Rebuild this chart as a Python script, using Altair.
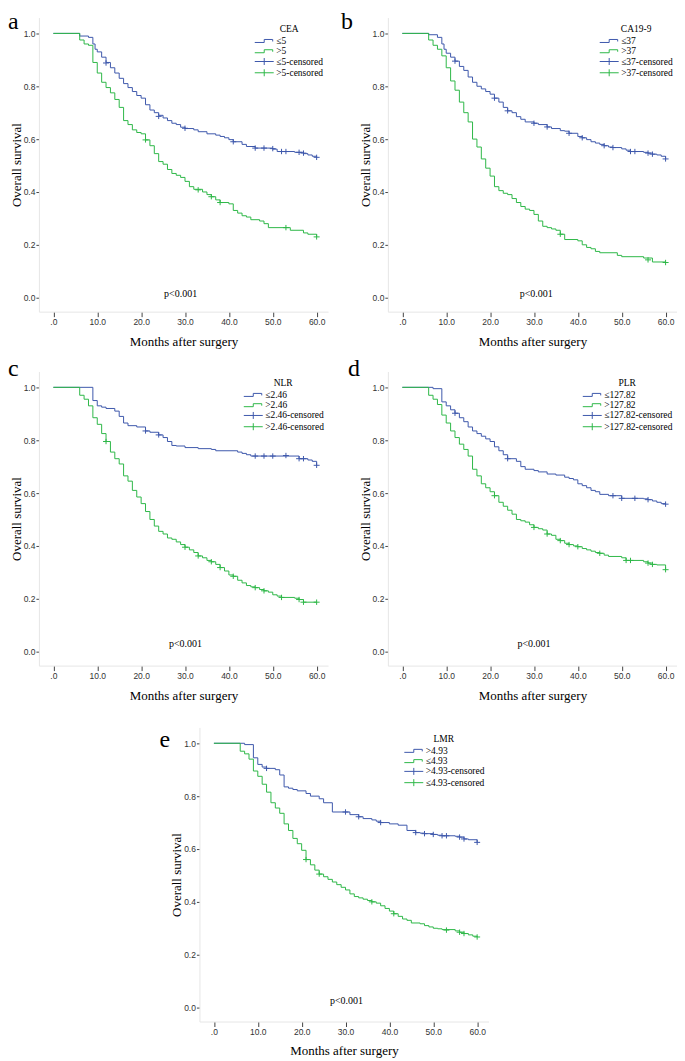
import altair as alt
import pandas as pd

SERIF = "Liberation Serif"
SANS = "Liberation Sans"
BLUE = "#3E58AC"
GREEN = "#2EB848"

# ---------------- data ----------------
# Panel a: CEA
A_BLUE_T = [0, 6, 8, 9, 9.5, 10, 11, 12, 13, 14, 15, 16, 17, 18, 19, 20, 21, 22, 23, 24, 25, 26, 27, 28, 29, 30, 32, 33, 35, 37, 38, 39, 40, 41, 43, 44, 46, 50, 51, 55, 57, 58, 59, 60]
A_BLUE_S = [1.0, 0.99, 0.985, 0.96, 0.94, 0.93, 0.91, 0.89, 0.87, 0.85, 0.83, 0.81, 0.795, 0.78, 0.765, 0.755, 0.73, 0.71, 0.70, 0.69, 0.68, 0.67, 0.66, 0.655, 0.645, 0.64, 0.635, 0.628, 0.62, 0.615, 0.61, 0.605, 0.598, 0.59, 0.58, 0.572, 0.566, 0.562, 0.553, 0.55, 0.545, 0.54, 0.535, 0.531]
A_BLUE_CT = [12, 24, 30, 41, 46, 48, 50, 52, 53, 56, 57, 60]
A_BLUE_CS = [0.888, 0.686, 0.641, 0.59, 0.566, 0.566, 0.564, 0.553, 0.553, 0.55, 0.547, 0.531]
A_GREEN_T = [0, 6, 7, 8, 9, 10, 11, 12, 13, 14, 15, 16, 17, 18, 19, 20, 21, 22, 23, 24, 25, 26, 27, 28, 29, 30, 31, 32, 34, 35, 36, 37, 38, 40, 41, 42, 43, 44, 45, 47, 48, 49, 54, 57, 58, 60]
A_GREEN_S = [1.0, 0.975, 0.96, 0.955, 0.89, 0.85, 0.815, 0.795, 0.775, 0.75, 0.72, 0.67, 0.655, 0.635, 0.625, 0.62, 0.597, 0.575, 0.545, 0.515, 0.505, 0.485, 0.47, 0.463, 0.455, 0.44, 0.42, 0.41, 0.40, 0.39, 0.382, 0.37, 0.36, 0.355, 0.33, 0.32, 0.31, 0.305, 0.295, 0.29, 0.28, 0.265, 0.255, 0.245, 0.24, 0.23]
A_GREEN_CT = [21, 33, 36, 38, 53, 60]
A_GREEN_CS = [0.597, 0.408, 0.382, 0.36, 0.265, 0.23]

# Panel b: CA19-9
B_BLUE_T = [0, 6, 8, 9, 9.5, 10, 11, 12, 13, 14, 15, 16, 17, 18, 19, 20, 21, 22, 23, 24, 25, 26, 27, 28, 30, 31, 33, 34, 36, 37, 38, 40, 41, 42, 43, 44, 45, 46, 47, 48, 50, 51, 52, 55, 56, 57, 58, 59, 60]
B_BLUE_S = [1.0, 0.995, 0.985, 0.96, 0.94, 0.925, 0.91, 0.895, 0.875, 0.86, 0.835, 0.815, 0.80, 0.79, 0.78, 0.77, 0.755, 0.74, 0.72, 0.707, 0.70, 0.685, 0.675, 0.665, 0.66, 0.655, 0.646, 0.64, 0.632, 0.63, 0.622, 0.61, 0.605, 0.598, 0.59, 0.585, 0.58, 0.575, 0.57, 0.568, 0.563, 0.558, 0.553, 0.55, 0.547, 0.543, 0.54, 0.535, 0.525]
B_BLUE_CT = [12, 21, 24, 30, 33, 38, 41, 46, 48, 52, 53, 56, 57, 60]
B_BLUE_CS = [0.895, 0.755, 0.707, 0.66, 0.646, 0.622, 0.605, 0.575, 0.568, 0.553, 0.553, 0.547, 0.543, 0.525]
B_GREEN_T = [0, 6, 7, 8, 9, 10, 11, 12, 13, 14, 15, 16, 17, 18, 19, 20, 21, 22, 23, 24, 25, 26, 27, 28, 29, 30, 31, 32, 33, 34, 35, 36, 37, 40, 41, 42, 43, 44, 45, 49, 50, 55, 57, 60]
B_GREEN_S = [1.0, 0.975, 0.955, 0.94, 0.915, 0.87, 0.82, 0.785, 0.74, 0.70, 0.665, 0.60, 0.57, 0.525, 0.49, 0.46, 0.42, 0.405, 0.395, 0.39, 0.375, 0.36, 0.345, 0.335, 0.33, 0.315, 0.29, 0.27, 0.265, 0.26, 0.255, 0.24, 0.22, 0.215, 0.20, 0.19, 0.185, 0.175, 0.17, 0.16, 0.155, 0.15, 0.135, 0.133]
B_GREEN_CT = [36, 56, 60]
B_GREEN_CS = [0.24, 0.143, 0.133]

# Panel c: NLR
C_BLUE_T = [0, 9, 10, 11, 12, 14, 15, 16, 17, 19, 21, 22, 24, 25, 26, 27, 28, 30, 33, 36, 37, 42, 43, 44, 45, 56, 58, 59, 60]
C_BLUE_S = [1.0, 0.95, 0.93, 0.925, 0.92, 0.91, 0.89, 0.865, 0.855, 0.85, 0.835, 0.83, 0.82, 0.81, 0.795, 0.78, 0.778, 0.772, 0.768, 0.765, 0.76, 0.755, 0.75, 0.745, 0.74, 0.73, 0.725, 0.72, 0.705]
C_BLUE_CT = [21, 24, 46, 48, 50, 53, 56, 57, 60]
C_BLUE_CS = [0.835, 0.82, 0.74, 0.74, 0.74, 0.742, 0.73, 0.73, 0.705]
C_GREEN_T = [0, 6, 7, 8, 9, 10, 11, 12, 13, 14, 15, 16, 17, 18, 19, 20, 21, 22, 23, 24, 25, 26, 27, 28, 29, 30, 31, 32, 33, 34, 35, 36, 37, 38, 39, 40, 41, 42, 43, 44, 45, 46, 47, 48, 49, 50, 51, 52, 55, 56, 57, 60]
C_GREEN_S = [1.0, 0.97, 0.955, 0.93, 0.885, 0.86, 0.825, 0.795, 0.755, 0.73, 0.71, 0.665, 0.645, 0.61, 0.585, 0.56, 0.53, 0.50, 0.475, 0.455, 0.445, 0.43, 0.425, 0.415, 0.405, 0.395, 0.385, 0.375, 0.362, 0.355, 0.345, 0.34, 0.33, 0.318, 0.305, 0.29, 0.285, 0.27, 0.26, 0.25, 0.245, 0.242, 0.235, 0.23, 0.225, 0.215, 0.21, 0.205, 0.202, 0.197, 0.187, 0.187]
C_GREEN_CT = [12, 30, 33, 36, 38, 41, 46, 48, 52, 56, 57, 60]
C_GREEN_CS = [0.795, 0.395, 0.362, 0.34, 0.318, 0.285, 0.242, 0.23, 0.205, 0.197, 0.187, 0.187]

# Panel d: PLR
D_BLUE_T = [0, 7, 9, 10, 11, 12, 13, 14, 15, 16, 17, 18, 19, 20, 21, 22, 23, 24, 26, 27, 28, 30, 31, 33, 35, 37, 38, 39, 40, 41, 42, 43, 44, 45, 47, 50, 55, 56, 57, 58, 59, 60]
D_BLUE_S = [1.0, 0.995, 0.945, 0.93, 0.915, 0.902, 0.885, 0.87, 0.85, 0.835, 0.825, 0.815, 0.805, 0.795, 0.775, 0.76, 0.745, 0.73, 0.72, 0.70, 0.69, 0.685, 0.68, 0.672, 0.668, 0.66, 0.655, 0.65, 0.635, 0.628, 0.62, 0.61, 0.605, 0.595, 0.59, 0.58, 0.578, 0.575, 0.57, 0.565, 0.56, 0.558]
D_BLUE_CT = [12, 24, 48, 50, 53, 56, 60]
D_BLUE_CS = [0.902, 0.73, 0.59, 0.58, 0.58, 0.575, 0.558]
D_GREEN_T = [0, 6, 7, 8, 9, 10, 11, 12, 13, 14, 15, 16, 17, 18, 19, 20, 21, 22, 23, 24, 25, 26, 27, 28, 29, 30, 31, 32, 33, 34, 35, 36, 37, 38, 39, 40, 41, 42, 43, 44, 45, 46, 47, 50, 51, 55, 56, 57, 58, 60]
D_GREEN_S = [1.0, 0.97, 0.955, 0.935, 0.895, 0.865, 0.835, 0.81, 0.785, 0.765, 0.74, 0.69, 0.665, 0.635, 0.62, 0.605, 0.59, 0.565, 0.55, 0.535, 0.52, 0.50, 0.495, 0.49, 0.48, 0.47, 0.465, 0.46, 0.445, 0.44, 0.425, 0.42, 0.41, 0.405, 0.40, 0.397, 0.39, 0.385, 0.38, 0.375, 0.372, 0.365, 0.36, 0.355, 0.345, 0.34, 0.335, 0.33, 0.328, 0.31]
D_GREEN_CT = [21, 30, 33, 36, 38, 40, 45, 51, 52, 56, 57, 60]
D_GREEN_CS = [0.59, 0.47, 0.445, 0.42, 0.405, 0.397, 0.372, 0.345, 0.345, 0.335, 0.33, 0.31]

# Panel e: LMR
E_BLUE_T = [0, 7, 9, 10, 11, 12, 14, 15, 16, 17, 18, 19, 21, 22, 24, 25, 27, 31, 33, 34, 36, 37, 38, 40, 42, 44, 46, 47, 48, 50, 51, 52, 55, 56, 57, 58, 60]
E_BLUE_S = [1.0, 0.995, 0.945, 0.92, 0.91, 0.905, 0.90, 0.88, 0.835, 0.83, 0.825, 0.82, 0.81, 0.80, 0.79, 0.775, 0.74, 0.73, 0.722, 0.715, 0.71, 0.705, 0.70, 0.695, 0.69, 0.67, 0.662, 0.66, 0.658, 0.655, 0.652, 0.65, 0.648, 0.645, 0.638, 0.635, 0.625]
E_BLUE_CT = [12, 30, 33, 38, 46, 48, 50, 52, 53, 56, 57, 60]
E_BLUE_CS = [0.905, 0.74, 0.722, 0.70, 0.662, 0.658, 0.655, 0.65, 0.65, 0.645, 0.638, 0.625]
E_GREEN_T = [0, 6, 7, 8, 9, 10, 11, 12, 13, 14, 15, 16, 17, 18, 19, 20, 21, 22, 23, 24, 25, 26, 27, 28, 29, 30, 31, 32, 33, 34, 35, 36, 37, 38, 39, 40, 41, 42, 43, 44, 45, 47, 48, 49, 50, 51, 52, 55, 56, 57, 58, 59, 60]
E_GREEN_S = [1.0, 0.97, 0.96, 0.94, 0.895, 0.875, 0.845, 0.815, 0.775, 0.755, 0.735, 0.695, 0.67, 0.64, 0.62, 0.595, 0.56, 0.54, 0.52, 0.505, 0.495, 0.485, 0.475, 0.465, 0.455, 0.445, 0.43, 0.42, 0.415, 0.41, 0.405, 0.40, 0.395, 0.385, 0.375, 0.365, 0.355, 0.345, 0.335, 0.33, 0.32, 0.317, 0.31, 0.305, 0.30, 0.298, 0.295, 0.29, 0.285, 0.28, 0.275, 0.27, 0.267]
E_GREEN_CT = [21, 24, 36, 41, 53, 56, 57, 60]
E_GREEN_CS = [0.56, 0.505, 0.40, 0.355, 0.293, 0.285, 0.28, 0.267]

X_TICKS = [0, 10, 20, 30, 40, 50, 60]
Y_TICKS = [0.0, 0.2, 0.4, 0.6, 0.8, 1.0]
P_LABEL = "p<0.001"

PANELS = [
    dict(letter="a", var="CEA", groups=["≤5", ">5"],
         blue=(A_BLUE_T, A_BLUE_S, A_BLUE_CT, A_BLUE_CS), green=(A_GREEN_T, A_GREEN_S, A_GREEN_CT, A_GREEN_CS),
         p_t=29.0, p_s=0.015, letter_dx=-31, letter_off=-35, legend_x=216),
    dict(letter="b", var="CA19-9", groups=["≤37", ">37"],
         blue=(B_BLUE_T, B_BLUE_S, B_BLUE_CT, B_BLUE_CS), green=(B_GREEN_T, B_GREEN_S, B_GREEN_CT, B_GREEN_CS),
         p_t=30.5, p_s=0.015, letter_dx=-47, letter_off=-35, legend_x=212),
    dict(letter="c", var="NLR", groups=["≤2.46", ">2.46"],
         blue=(C_BLUE_T, C_BLUE_S, C_BLUE_CT, C_BLUE_CS), green=(C_GREEN_T, C_GREEN_S, C_GREEN_CT, C_GREEN_CS),
         p_t=30.1, p_s=0.03, letter_dx=-31, letter_off=-29, legend_x=205),
    dict(letter="d", var="PLR", groups=["≤127.82", ">127.82"],
         blue=(D_BLUE_T, D_BLUE_S, D_BLUE_CT, D_BLUE_CS), green=(D_GREEN_T, D_GREEN_S, D_GREEN_CT, D_GREEN_CS),
         p_t=30.0, p_s=0.027, letter_dx=-40, letter_off=-29, legend_x=195),
    dict(letter="e", var="LMR", groups=[">4.93", "≤4.93"],
         blue=(E_BLUE_T, E_BLUE_S, E_BLUE_CT, E_BLUE_CS), green=(E_GREEN_T, E_GREEN_S, E_GREEN_CT, E_GREEN_CS),
         p_t=30.2, p_s=0.026, letter_dx=-40, letter_off=-44, legend_x=205),
]

STEP_SYM = "M-1,0.3H0.9V-0.3H2.6V0.1"
LEG_CROSS = "M-1,0H2.8M0.9,-0.7V0.7"
PLOT_CROSS = "M-1,0H1M0,-0.9V0.9"

W, H = 290, 295


def panel(p):
    g1, g2 = p["groups"]
    domain = [g1, g2, g1 + "-censored", g2 + "-censored"]
    rows, crows = [], []
    for g, (ts, ss, cts, css) in ((g1, p["blue"]), (g2, p["green"])):
        rows += [dict(t=t, s=s, grp=g) for t, s in zip(ts, ss)]
        crows += [dict(t=t, s=s, grp=g + "-censored") for t, s in zip(cts, css)]
    steps = pd.DataFrame(rows)
    cens = pd.DataFrame(crows)
    empty = pd.DataFrame({"t": pd.Series([], dtype=float), "s": pd.Series([], dtype=float),
                          "grp": pd.Series([], dtype=str)})

    x = alt.X("t:Q", scale=alt.Scale(domain=[-3.3, 62.6], nice=False, zero=False),
              axis=alt.Axis(values=X_TICKS, title="Months after surgery",
                            labelExpr="datum.value == 0 ? '.0' : format(datum.value, '.1f')",
                            labelFont=SANS, labelFontSize=8.5, labelColor="#333", labelPadding=1,
                            tickSize=5, tickColor="#444", domainColor="#e6e6e6", grid=False,
                            titleFont=SERIF, titleFontSize=13, titleFontWeight="normal",
                            titleColor="#000", titlePadding=9))
    y = alt.Y("s:Q", scale=alt.Scale(domain=[-0.053, 1.06], nice=False, zero=False),
              axis=alt.Axis(values=Y_TICKS, format=".1f", title="Overall survival",
                            labelFont=SANS, labelFontSize=8.5, labelColor="#333", labelPadding=1,
                            tickSize=3, tickColor="#444", domainColor="#e6e6e6", grid=False,
                            titleFont=SERIF, titleFontSize=13, titleFontWeight="normal",
                            titleColor="#000", titlePadding=0))
    legend = alt.Legend(title=p["var"], orient="none", legendX=p["legend_x"], legendY=7,
                        titleFont=SERIF, titleFontSize=9.5, titleFontWeight="normal", titleColor="#000",
                        titleAnchor="middle", titleAlign="center", titlePadding=1.5,
                        labelFont=SERIF, labelFontSize=9.5, labelColor="#000", labelOffset=11,
                        symbolSize=100, symbolStrokeWidth=1, symbolFillColor="transparent",
                        rowPadding=0.3, padding=0)
    color = alt.Color("grp:N", scale=alt.Scale(domain=domain, range=[BLUE, GREEN, BLUE, GREEN]), legend=legend)
    shape = alt.Shape("grp:N", scale=alt.Scale(domain=domain, range=[STEP_SYM, STEP_SYM, LEG_CROSS, LEG_CROSS]),
                      legend=legend)

    lines = alt.Chart(steps).mark_line(interpolate="step-after", strokeWidth=1).encode(x=x, y=y, color=color)
    crosses = alt.Chart(cens).mark_point(shape=PLOT_CROSS, size=36, filled=False, strokeWidth=1,
                                         opacity=1).encode(x=x, y=y, color=color)
    leg = alt.Chart(empty).mark_point(filled=False, size=100, strokeWidth=1).encode(x=x, y=y, color=color,
                                                                                    shape=shape)
    ptxt = alt.Chart(pd.DataFrame({"t": [p["p_t"]], "s": [p["p_s"]], "label": [P_LABEL]})).mark_text(
        font=SERIF, fontSize=10, color="#000").encode(x=x, y=y, text="label:N")
    return alt.layer(lines, crosses, leg, ptxt).properties(
        width=W, height=H,
        title=alt.TitleParams(text=p["letter"], anchor="start", frame="group", font=SERIF, fontSize=24,
                              fontWeight="normal", color="#000", baseline="alphabetic",
                              offset=p["letter_off"], dx=p["letter_dx"]))


pa, pb, pc, pd_, pe = [panel(p) for p in PANELS]
spacer = alt.Chart(pd.DataFrame({"v": [0]})).mark_point(opacity=0).encode(
    x=alt.X("v:Q", axis=None), y=alt.Y("v:Q", axis=None)).properties(width=121, height=10)

IND = dict(color="independent", shape="independent", x="independent", y="independent")
row1 = alt.hconcat(pa, pb, spacing=13).resolve_scale(**IND)
row2 = alt.hconcat(pc, pd_, spacing=20).resolve_scale(**IND)
row3 = alt.hconcat(spacer, pe, spacing=0).resolve_scale(**IND)
top_rows = alt.vconcat(row1, row2, spacing=9).resolve_scale(**IND)

chart = alt.vconcat(top_rows, row3, spacing=25).properties(padding=0).resolve_scale(
    **IND).configure(background="white").configure_view(strokeWidth=0, stroke="transparent")

chart.save("out.html", embed_options={"renderer": "svg", "actions": False})
